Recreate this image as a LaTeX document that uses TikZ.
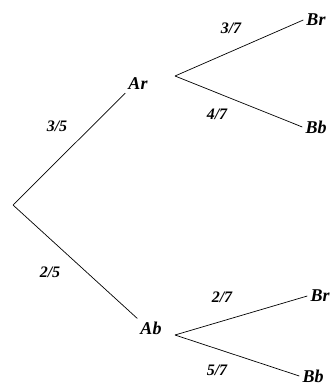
\documentclass[tikz,border=0pt]{standalone}
\usepackage{fontspec}
\setmainfont{Liberation Serif}
\usetikzlibrary{positioning}

\begin{document}
\begin{tikzpicture}[
		x=1pt,y=-1pt,
		event/.style={
			inner sep=3pt,
			font=\fontsize{18}{20}\selectfont\bfseries\itshape
		},
		prob/.style={
			inner sep=1pt,
			font=\fontsize{16}{18}\selectfont\bfseries\itshape
		},
		branch/.style={
			draw=black,
			line width=0.7pt
		}
		]
		
		\useasboundingbox (0,0) rectangle (332,385);
		
		% tree points
		\coordinate (start) at (13,205);
		\coordinate (arfork) at (175,76);
		\coordinate (abfork) at (175,335);
		
		\node[event] (ar) at (138,84) {Ar};
		\node[event] (ab) at (151,328) {Ab};
		
		\node[event] (brtop) at (316,20) {Br};
		\node[event] (bbtop) at (316,127) {Bb};
		\node[event] (brbot) at (320,296) {Br};
		\node[event] (bbbot) at (313,376) {Bb};
		
		\node[prob] (p35) at (57,126) {3/5};
		\node[prob] (p25) at (50,272) {2/5};
		\node[prob] (p37) at (231,28) {3/7};
		\node[prob] (p47) at (217,114) {4/7};
		\node[prob] (p27) at (222,297) {2/7};
		\node[prob] (p57) at (217,370) {5/7};
		
		\draw[branch] (start) -- (ar.south west);
		\draw[branch] (start) -- (ab.north west);
		\draw[branch] (arfork) -- (brtop.west);
		\draw[branch] (arfork) -- (bbtop.west);
		\draw[branch] (abfork) -- (brbot.west);
		\draw[branch] (abfork) -- (bbbot.west);
		
	\end{tikzpicture}
\end{document}
